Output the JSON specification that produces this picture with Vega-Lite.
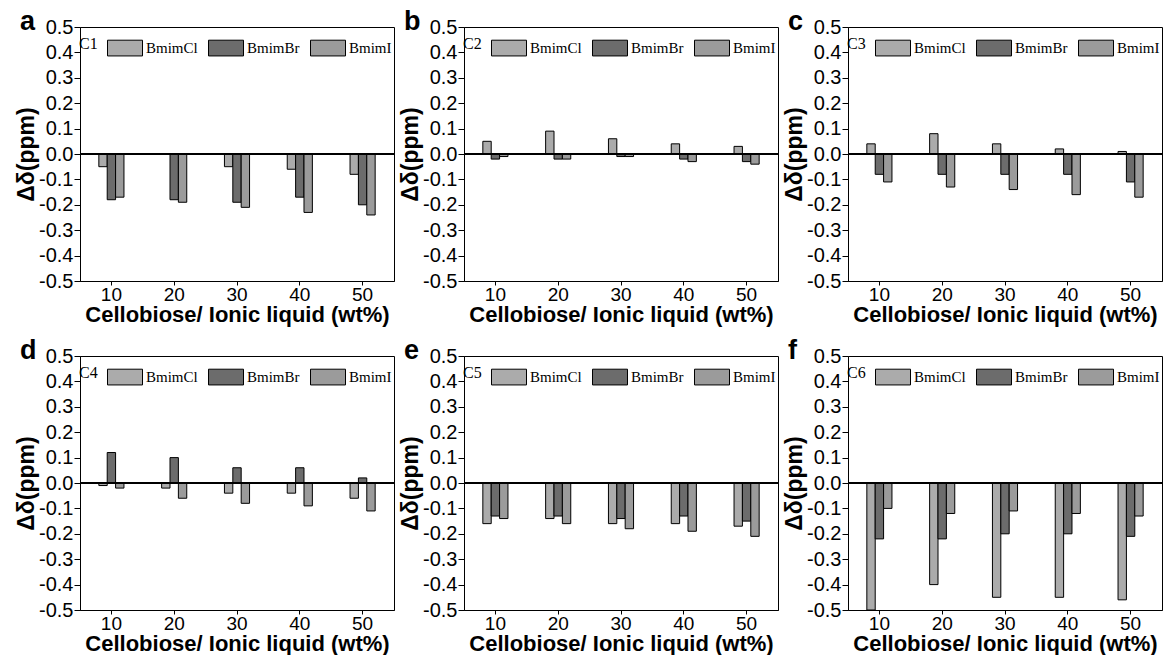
{
  "$schema": "https://vega.github.io/schema/vega-lite/v6.json",
  "background": "white",
  "padding": {"left": 15, "top": 7, "right": 5, "bottom": 0},
  "datasets": {
    "d": [
      {"panel": "C1", "conc": "10", "salt": "BmimCl", "v": -0.05},
      {"panel": "C1", "conc": "10", "salt": "BmimBr", "v": -0.18},
      {"panel": "C1", "conc": "10", "salt": "BmimI", "v": -0.17},
      {"panel": "C1", "conc": "20", "salt": "BmimCl", "v": 0.0},
      {"panel": "C1", "conc": "20", "salt": "BmimBr", "v": -0.18},
      {"panel": "C1", "conc": "20", "salt": "BmimI", "v": -0.19},
      {"panel": "C1", "conc": "30", "salt": "BmimCl", "v": -0.05},
      {"panel": "C1", "conc": "30", "salt": "BmimBr", "v": -0.19},
      {"panel": "C1", "conc": "30", "salt": "BmimI", "v": -0.21},
      {"panel": "C1", "conc": "40", "salt": "BmimCl", "v": -0.06},
      {"panel": "C1", "conc": "40", "salt": "BmimBr", "v": -0.17},
      {"panel": "C1", "conc": "40", "salt": "BmimI", "v": -0.23},
      {"panel": "C1", "conc": "50", "salt": "BmimCl", "v": -0.08},
      {"panel": "C1", "conc": "50", "salt": "BmimBr", "v": -0.20},
      {"panel": "C1", "conc": "50", "salt": "BmimI", "v": -0.24},

      {"panel": "C2", "conc": "10", "salt": "BmimCl", "v": 0.05},
      {"panel": "C2", "conc": "10", "salt": "BmimBr", "v": -0.02},
      {"panel": "C2", "conc": "10", "salt": "BmimI", "v": -0.01},
      {"panel": "C2", "conc": "20", "salt": "BmimCl", "v": 0.09},
      {"panel": "C2", "conc": "20", "salt": "BmimBr", "v": -0.02},
      {"panel": "C2", "conc": "20", "salt": "BmimI", "v": -0.02},
      {"panel": "C2", "conc": "30", "salt": "BmimCl", "v": 0.06},
      {"panel": "C2", "conc": "30", "salt": "BmimBr", "v": -0.01},
      {"panel": "C2", "conc": "30", "salt": "BmimI", "v": -0.01},
      {"panel": "C2", "conc": "40", "salt": "BmimCl", "v": 0.04},
      {"panel": "C2", "conc": "40", "salt": "BmimBr", "v": -0.02},
      {"panel": "C2", "conc": "40", "salt": "BmimI", "v": -0.03},
      {"panel": "C2", "conc": "50", "salt": "BmimCl", "v": 0.03},
      {"panel": "C2", "conc": "50", "salt": "BmimBr", "v": -0.03},
      {"panel": "C2", "conc": "50", "salt": "BmimI", "v": -0.04},

      {"panel": "C3", "conc": "10", "salt": "BmimCl", "v": 0.04},
      {"panel": "C3", "conc": "10", "salt": "BmimBr", "v": -0.08},
      {"panel": "C3", "conc": "10", "salt": "BmimI", "v": -0.11},
      {"panel": "C3", "conc": "20", "salt": "BmimCl", "v": 0.08},
      {"panel": "C3", "conc": "20", "salt": "BmimBr", "v": -0.08},
      {"panel": "C3", "conc": "20", "salt": "BmimI", "v": -0.13},
      {"panel": "C3", "conc": "30", "salt": "BmimCl", "v": 0.04},
      {"panel": "C3", "conc": "30", "salt": "BmimBr", "v": -0.08},
      {"panel": "C3", "conc": "30", "salt": "BmimI", "v": -0.14},
      {"panel": "C3", "conc": "40", "salt": "BmimCl", "v": 0.02},
      {"panel": "C3", "conc": "40", "salt": "BmimBr", "v": -0.08},
      {"panel": "C3", "conc": "40", "salt": "BmimI", "v": -0.16},
      {"panel": "C3", "conc": "50", "salt": "BmimCl", "v": 0.01},
      {"panel": "C3", "conc": "50", "salt": "BmimBr", "v": -0.11},
      {"panel": "C3", "conc": "50", "salt": "BmimI", "v": -0.17},

      {"panel": "C4", "conc": "10", "salt": "BmimCl", "v": -0.01},
      {"panel": "C4", "conc": "10", "salt": "BmimBr", "v": 0.12},
      {"panel": "C4", "conc": "10", "salt": "BmimI", "v": -0.02},
      {"panel": "C4", "conc": "20", "salt": "BmimCl", "v": -0.02},
      {"panel": "C4", "conc": "20", "salt": "BmimBr", "v": 0.10},
      {"panel": "C4", "conc": "20", "salt": "BmimI", "v": -0.06},
      {"panel": "C4", "conc": "30", "salt": "BmimCl", "v": -0.04},
      {"panel": "C4", "conc": "30", "salt": "BmimBr", "v": 0.06},
      {"panel": "C4", "conc": "30", "salt": "BmimI", "v": -0.08},
      {"panel": "C4", "conc": "40", "salt": "BmimCl", "v": -0.04},
      {"panel": "C4", "conc": "40", "salt": "BmimBr", "v": 0.06},
      {"panel": "C4", "conc": "40", "salt": "BmimI", "v": -0.09},
      {"panel": "C4", "conc": "50", "salt": "BmimCl", "v": -0.06},
      {"panel": "C4", "conc": "50", "salt": "BmimBr", "v": 0.02},
      {"panel": "C4", "conc": "50", "salt": "BmimI", "v": -0.11},

      {"panel": "C5", "conc": "10", "salt": "BmimCl", "v": -0.16},
      {"panel": "C5", "conc": "10", "salt": "BmimBr", "v": -0.13},
      {"panel": "C5", "conc": "10", "salt": "BmimI", "v": -0.14},
      {"panel": "C5", "conc": "20", "salt": "BmimCl", "v": -0.14},
      {"panel": "C5", "conc": "20", "salt": "BmimBr", "v": -0.13},
      {"panel": "C5", "conc": "20", "salt": "BmimI", "v": -0.16},
      {"panel": "C5", "conc": "30", "salt": "BmimCl", "v": -0.16},
      {"panel": "C5", "conc": "30", "salt": "BmimBr", "v": -0.14},
      {"panel": "C5", "conc": "30", "salt": "BmimI", "v": -0.18},
      {"panel": "C5", "conc": "40", "salt": "BmimCl", "v": -0.16},
      {"panel": "C5", "conc": "40", "salt": "BmimBr", "v": -0.13},
      {"panel": "C5", "conc": "40", "salt": "BmimI", "v": -0.19},
      {"panel": "C5", "conc": "50", "salt": "BmimCl", "v": -0.17},
      {"panel": "C5", "conc": "50", "salt": "BmimBr", "v": -0.15},
      {"panel": "C5", "conc": "50", "salt": "BmimI", "v": -0.21},

      {"panel": "C6", "conc": "10", "salt": "BmimCl", "v": -0.50},
      {"panel": "C6", "conc": "10", "salt": "BmimBr", "v": -0.22},
      {"panel": "C6", "conc": "10", "salt": "BmimI", "v": -0.10},
      {"panel": "C6", "conc": "20", "salt": "BmimCl", "v": -0.40},
      {"panel": "C6", "conc": "20", "salt": "BmimBr", "v": -0.22},
      {"panel": "C6", "conc": "20", "salt": "BmimI", "v": -0.12},
      {"panel": "C6", "conc": "30", "salt": "BmimCl", "v": -0.45},
      {"panel": "C6", "conc": "30", "salt": "BmimBr", "v": -0.20},
      {"panel": "C6", "conc": "30", "salt": "BmimI", "v": -0.11},
      {"panel": "C6", "conc": "40", "salt": "BmimCl", "v": -0.45},
      {"panel": "C6", "conc": "40", "salt": "BmimBr", "v": -0.20},
      {"panel": "C6", "conc": "40", "salt": "BmimI", "v": -0.12},
      {"panel": "C6", "conc": "50", "salt": "BmimCl", "v": -0.46},
      {"panel": "C6", "conc": "50", "salt": "BmimBr", "v": -0.21},
      {"panel": "C6", "conc": "50", "salt": "BmimI", "v": -0.13}
    ]
  },
  "data": {"name": "d"},
  "columns": 3,
  "spacing": {"row": 75, "column": 70},
  "bounds": "flush",
  "resolve": {
    "scale": {"fill": "independent", "x": "independent", "y": "independent"},
    "legend": {"fill": "independent"},
    "axis": {"x": "independent", "y": "independent"}
  },
  "concat": [
    {"title": {"text": "a"}, "width": 314, "height": 254, "transform": [{"filter": "datum.panel === 'C1'"}],
     "layer": [
       {"mark": {"type": "bar", "stroke": "black", "strokeWidth": 1},
        "encoding": {
          "x": {"field": "conc", "type": "nominal", "sort": ["10","20","30","40","50"], "scale": {"paddingInner": 0.6, "paddingOuter": 0.3}, "axis": {"title": "Cellobiose/ Ionic liquid (wt%)"}},
          "xOffset": {"field": "salt", "type": "nominal", "sort": ["BmimCl","BmimBr","BmimI"], "scale": {"paddingInner": 0, "paddingOuter": 0}},
          "y": {"field": "v", "type": "quantitative", "scale": {"domain": [-0.5, 0.5], "nice": false, "zero": false}, "axis": {"title": "Δδ(ppm)", "values": [-0.5,-0.4,-0.3,-0.2,-0.1,0,0.1,0.2,0.3,0.4,0.5], "labelOverlap": false, "labelFlush": false, "labelBound": false}},
          "fill": {"field": "salt", "type": "nominal", "sort": ["BmimCl","BmimBr","BmimI"], "scale": {"range": ["#ababab", "#6c6c6c", "#9b9b9b"]}, "legend": {"title": "C1"}}
        }},
       {"mark": {"type": "rule", "color": "black", "strokeWidth": 1.5}, "encoding": {"y": {"datum": 0, "type": "quantitative", "axis": {"title": "Δδ(ppm)", "values": [-0.5,-0.4,-0.3,-0.2,-0.1,0,0.1,0.2,0.3,0.4,0.5], "labelOverlap": false, "labelFlush": false, "labelBound": false}}}}
     ]},
    {"title": {"text": "b"}, "width": 314, "height": 254, "transform": [{"filter": "datum.panel === 'C2'"}],
     "layer": [
       {"mark": {"type": "bar", "stroke": "black", "strokeWidth": 1},
        "encoding": {
          "x": {"field": "conc", "type": "nominal", "sort": ["10","20","30","40","50"], "scale": {"paddingInner": 0.6, "paddingOuter": 0.3}, "axis": {"title": "Cellobiose/ Ionic liquid (wt%)"}},
          "xOffset": {"field": "salt", "type": "nominal", "sort": ["BmimCl","BmimBr","BmimI"], "scale": {"paddingInner": 0, "paddingOuter": 0}},
          "y": {"field": "v", "type": "quantitative", "scale": {"domain": [-0.5, 0.5], "nice": false, "zero": false}, "axis": {"title": "Δδ(ppm)", "values": [-0.5,-0.4,-0.3,-0.2,-0.1,0,0.1,0.2,0.3,0.4,0.5], "labelOverlap": false, "labelFlush": false, "labelBound": false}},
          "fill": {"field": "salt", "type": "nominal", "sort": ["BmimCl","BmimBr","BmimI"], "scale": {"range": ["#ababab", "#6c6c6c", "#9b9b9b"]}, "legend": {"title": "C2"}}
        }},
       {"mark": {"type": "rule", "color": "black", "strokeWidth": 1.5}, "encoding": {"y": {"datum": 0, "type": "quantitative", "axis": {"title": "Δδ(ppm)", "values": [-0.5,-0.4,-0.3,-0.2,-0.1,0,0.1,0.2,0.3,0.4,0.5], "labelOverlap": false, "labelFlush": false, "labelBound": false}}}}
     ]},
    {"title": {"text": "c"}, "width": 314, "height": 254, "transform": [{"filter": "datum.panel === 'C3'"}],
     "layer": [
       {"mark": {"type": "bar", "stroke": "black", "strokeWidth": 1},
        "encoding": {
          "x": {"field": "conc", "type": "nominal", "sort": ["10","20","30","40","50"], "scale": {"paddingInner": 0.6, "paddingOuter": 0.3}, "axis": {"title": "Cellobiose/ Ionic liquid (wt%)"}},
          "xOffset": {"field": "salt", "type": "nominal", "sort": ["BmimCl","BmimBr","BmimI"], "scale": {"paddingInner": 0, "paddingOuter": 0}},
          "y": {"field": "v", "type": "quantitative", "scale": {"domain": [-0.5, 0.5], "nice": false, "zero": false}, "axis": {"title": "Δδ(ppm)", "values": [-0.5,-0.4,-0.3,-0.2,-0.1,0,0.1,0.2,0.3,0.4,0.5], "labelOverlap": false, "labelFlush": false, "labelBound": false}},
          "fill": {"field": "salt", "type": "nominal", "sort": ["BmimCl","BmimBr","BmimI"], "scale": {"range": ["#ababab", "#6c6c6c", "#9b9b9b"]}, "legend": {"title": "C3"}}
        }},
       {"mark": {"type": "rule", "color": "black", "strokeWidth": 1.5}, "encoding": {"y": {"datum": 0, "type": "quantitative", "axis": {"title": "Δδ(ppm)", "values": [-0.5,-0.4,-0.3,-0.2,-0.1,0,0.1,0.2,0.3,0.4,0.5], "labelOverlap": false, "labelFlush": false, "labelBound": false}}}}
     ]},
    {"title": {"text": "d"}, "width": 314, "height": 254, "transform": [{"filter": "datum.panel === 'C4'"}],
     "layer": [
       {"mark": {"type": "bar", "stroke": "black", "strokeWidth": 1},
        "encoding": {
          "x": {"field": "conc", "type": "nominal", "sort": ["10","20","30","40","50"], "scale": {"paddingInner": 0.6, "paddingOuter": 0.3}, "axis": {"title": "Cellobiose/ Ionic liquid (wt%)"}},
          "xOffset": {"field": "salt", "type": "nominal", "sort": ["BmimCl","BmimBr","BmimI"], "scale": {"paddingInner": 0, "paddingOuter": 0}},
          "y": {"field": "v", "type": "quantitative", "scale": {"domain": [-0.5, 0.5], "nice": false, "zero": false}, "axis": {"title": "Δδ(ppm)", "values": [-0.5,-0.4,-0.3,-0.2,-0.1,0,0.1,0.2,0.3,0.4,0.5], "labelOverlap": false, "labelFlush": false, "labelBound": false}},
          "fill": {"field": "salt", "type": "nominal", "sort": ["BmimCl","BmimBr","BmimI"], "scale": {"range": ["#ababab", "#6c6c6c", "#9b9b9b"]}, "legend": {"title": "C4"}}
        }},
       {"mark": {"type": "rule", "color": "black", "strokeWidth": 1.5}, "encoding": {"y": {"datum": 0, "type": "quantitative", "axis": {"title": "Δδ(ppm)", "values": [-0.5,-0.4,-0.3,-0.2,-0.1,0,0.1,0.2,0.3,0.4,0.5], "labelOverlap": false, "labelFlush": false, "labelBound": false}}}}
     ]},
    {"title": {"text": "e"}, "width": 314, "height": 254, "transform": [{"filter": "datum.panel === 'C5'"}],
     "layer": [
       {"mark": {"type": "bar", "stroke": "black", "strokeWidth": 1},
        "encoding": {
          "x": {"field": "conc", "type": "nominal", "sort": ["10","20","30","40","50"], "scale": {"paddingInner": 0.6, "paddingOuter": 0.3}, "axis": {"title": "Cellobiose/ Ionic liquid (wt%)"}},
          "xOffset": {"field": "salt", "type": "nominal", "sort": ["BmimCl","BmimBr","BmimI"], "scale": {"paddingInner": 0, "paddingOuter": 0}},
          "y": {"field": "v", "type": "quantitative", "scale": {"domain": [-0.5, 0.5], "nice": false, "zero": false}, "axis": {"title": "Δδ(ppm)", "values": [-0.5,-0.4,-0.3,-0.2,-0.1,0,0.1,0.2,0.3,0.4,0.5], "labelOverlap": false, "labelFlush": false, "labelBound": false}},
          "fill": {"field": "salt", "type": "nominal", "sort": ["BmimCl","BmimBr","BmimI"], "scale": {"range": ["#ababab", "#6c6c6c", "#9b9b9b"]}, "legend": {"title": "C5"}}
        }},
       {"mark": {"type": "rule", "color": "black", "strokeWidth": 1.5}, "encoding": {"y": {"datum": 0, "type": "quantitative", "axis": {"title": "Δδ(ppm)", "values": [-0.5,-0.4,-0.3,-0.2,-0.1,0,0.1,0.2,0.3,0.4,0.5], "labelOverlap": false, "labelFlush": false, "labelBound": false}}}}
     ]},
    {"title": {"text": "f"}, "width": 314, "height": 254, "transform": [{"filter": "datum.panel === 'C6'"}],
     "layer": [
       {"mark": {"type": "bar", "stroke": "black", "strokeWidth": 1},
        "encoding": {
          "x": {"field": "conc", "type": "nominal", "sort": ["10","20","30","40","50"], "scale": {"paddingInner": 0.6, "paddingOuter": 0.3}, "axis": {"title": "Cellobiose/ Ionic liquid (wt%)"}},
          "xOffset": {"field": "salt", "type": "nominal", "sort": ["BmimCl","BmimBr","BmimI"], "scale": {"paddingInner": 0, "paddingOuter": 0}},
          "y": {"field": "v", "type": "quantitative", "scale": {"domain": [-0.5, 0.5], "nice": false, "zero": false}, "axis": {"title": "Δδ(ppm)", "values": [-0.5,-0.4,-0.3,-0.2,-0.1,0,0.1,0.2,0.3,0.4,0.5], "labelOverlap": false, "labelFlush": false, "labelBound": false}},
          "fill": {"field": "salt", "type": "nominal", "sort": ["BmimCl","BmimBr","BmimI"], "scale": {"range": ["#ababab", "#6c6c6c", "#9b9b9b"]}, "legend": {"title": "C6"}}
        }},
       {"mark": {"type": "rule", "color": "black", "strokeWidth": 1.5}, "encoding": {"y": {"datum": 0, "type": "quantitative", "axis": {"title": "Δδ(ppm)", "values": [-0.5,-0.4,-0.3,-0.2,-0.1,0,0.1,0.2,0.3,0.4,0.5], "labelOverlap": false, "labelFlush": false, "labelBound": false}}}}
     ]}
  ],
  "config": {
    "view": {"stroke": "black", "strokeWidth": 1},
    "font": "Liberation Sans",
    "title": {"anchor": "start", "frame": "group", "fontSize": 27, "fontWeight": "bold", "font": "Liberation Sans", "color": "black", "dx": -60, "offset": -19, "baseline": "alphabetic"},
    "axis": {"grid": false, "domainColor": "black", "tickColor": "black", "labelColor": "black", "titleColor": "black", "labelFont": "Liberation Sans", "titleFont": "Liberation Sans", "titleFontWeight": "bold", "labelOverlap": false},
    "axisX": {"labelAngle": 0, "labelFontSize": 19, "tickSize": 4, "labelPadding": 0, "titleFontSize": 22, "titlePadding": 0},
    "axisY": {"labelFontSize": 20, "tickSize": 6, "labelPadding": 1, "titleFontSize": 23, "titlePadding": 0, "labelOverlap": false, "labelExpr": "replace(format(datum.value, '.1f'), '\u2212', '-')"},
    "legend": {"orient": "none", "legendX": -1, "legendY": 3, "direction": "horizontal", "titleOrient": "left", "padding": 0, "titleFont": "Liberation Serif", "titleFontWeight": "normal", "titleFontSize": 16, "titleColor": "black", "titlePadding": 9, "labelFont": "Liberation Serif", "labelFontSize": 15, "labelColor": "black", "labelOffset": 3, "columnPadding": 8, "symbolType": "M-1,-0.45H1V0.45H-1Z", "symbolSize": 1225, "symbolStrokeColor": "black", "symbolStrokeWidth": 1, "symbolOpacity": 1, "titleBaseline": "middle"}
  }
}
